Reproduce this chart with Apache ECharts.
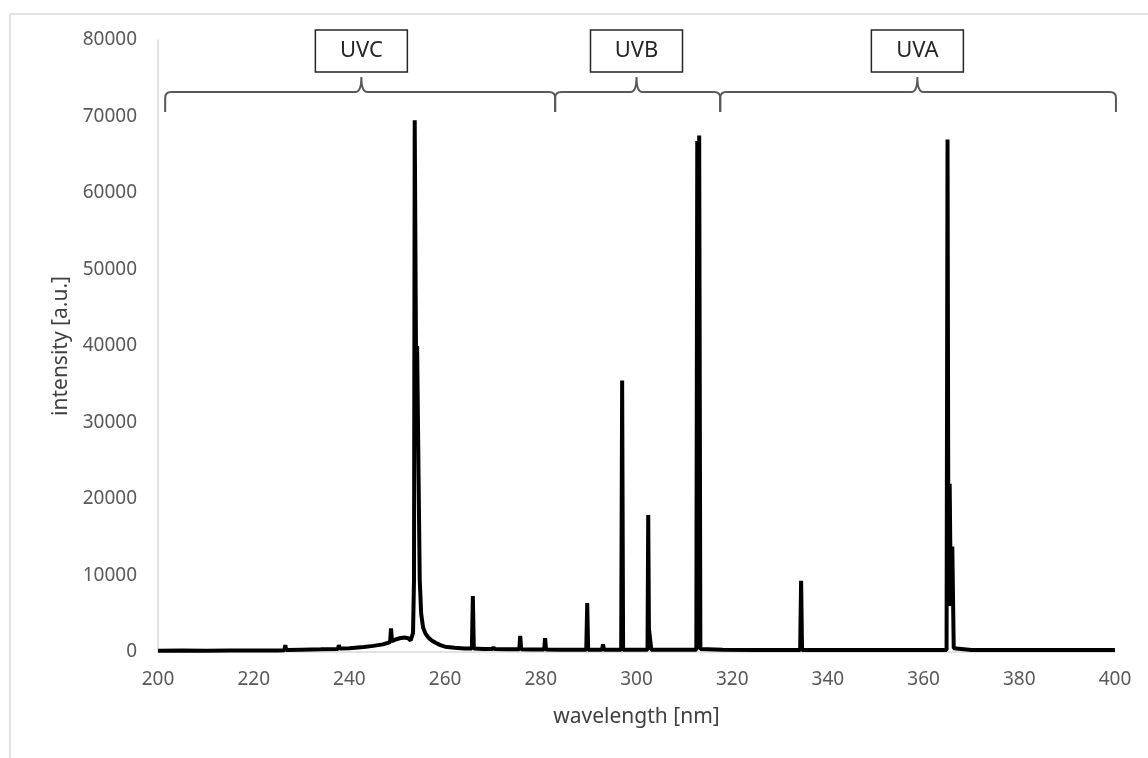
<!DOCTYPE html>
<html>
<head>
<meta charset="utf-8">
<title>UV spectrum</title>
<script src="https://cdn.jsdelivr.net/npm/echarts@6/dist/echarts.min.js"></script>
<style>
  html, body { margin: 0; padding: 0; background: #fff; }
  #chart { width: 1148px; height: 758px; }
</style>
</head>
<body>
<div id="chart"></div>
<script>
// spectrum: wavelength [nm] and intensity [a.u.]
const wavelength = [
  200, 205, 210, 215, 220, 225,
  226.4, 226.6, 226.8, 230, 234,
  237.6, 237.8, 238.0, 240, 243, 245, 247, 248,
  248.5, 248.7, 248.9, 249.5, 250.5, 251.5, 252.3, 252.8,
  253.3, 253.5, 253.65, 253.85, 254.0, 254.15, 254.35, 254.7,
  255.0, 255.4, 255.9, 256.5, 257.2, 258, 259, 260, 262, 264,
  265.6, 265.8, 266.0, 268, 269.9, 270.1, 270.3,
  273, 275.5, 275.7, 275.9, 278, 280.7, 280.9, 281.1,
  284, 287, 289.5, 289.7, 289.9, 292.8, 293.0, 293.2,
  296.8, 297.0, 297.2, 300, 302.3, 302.45, 302.6, 302.9, 303.1,
  306, 310, 312.5, 312.7, 312.9, 313.1, 313.35,
  318, 325, 330, 334.2, 334.4, 334.6, 340, 350, 360,
  364.8, 365.0, 365.2, 365.45, 365.7, 366.0, 366.3, 370, 380, 390, 400
];
const intensity = [
  150, 180, 160, 200, 180, 200,
  220, 900, 250, 300, 350,
  400, 900, 450, 500, 650, 800, 1000, 1200,
  1300, 3100, 1400, 1600, 1800, 1900, 1800, 1500,
  2500, 9400, 69500, 69300, 30000, 40000, 39800, 9400,
  5000, 3200, 2400, 1900, 1500, 1200, 900, 700, 550, 450,
  450, 7300, 450, 400, 380, 650, 380,
  350, 350, 2100, 350, 330, 330, 1800, 330,
  300, 300, 300, 6400, 300, 300, 1000, 300,
  300, 35500, 300, 300, 300, 17900, 3000, 2800, 300,
  280, 280, 300, 66800, 20000, 67500, 400,
  280, 270, 270, 270, 9300, 270, 260, 260, 260,
  270, 67000, 6000, 22000, 6000, 13800, 500, 260, 250, 250, 250
];

// UV bands: bracket start, end and tip in nm
const bandNames = ["UVC", "UVB", "UVA"];
const bandStart = [201.5, 283, 317.5];
const bandEnd = [283, 317.5, 400.2];
const bandTip = [242.5, 300, 358.7];
const bracketLevel = 73200;

const xTicks = { min: 200, max: 400, interval: 20 };
const yTicks = { min: 0, max: 80000, interval: 10000 };

const spectrum = wavelength.map((w, i) => [w, intensity[i]]);
const bands = bandNames.map((n, i) => [bandStart[i], bandEnd[i], bandTip[i], bracketLevel]);

const font = "Noto Sans";
const chart = echarts.init(document.getElementById("chart"));

function renderBracket(params, api) {
  const y0 = api.value(3);
  const a = api.coord([api.value(0), y0]);
  const b = api.coord([api.value(1), y0]);
  const m = api.coord([api.value(2), y0]);
  const y = a[1];
  const r = 6;
  const path =
    "M" + a[0] + " " + (y + 20) +
    " L" + a[0] + " " + (y + r) +
    " Q" + a[0] + " " + y + " " + (a[0] + r) + " " + y +
    " L" + (m[0] - r) + " " + y +
    " Q" + m[0] + " " + y + " " + m[0] + " " + (y - 15) +
    " Q" + m[0] + " " + y + " " + (m[0] + r) + " " + y +
    " L" + (b[0] - r) + " " + y +
    " Q" + b[0] + " " + y + " " + b[0] + " " + (y + r) +
    " L" + b[0] + " " + (y + 20);
  return {
    type: "group",
    children: [
      {
        type: "path",
        shape: { pathData: path },
        style: { stroke: "#595959", lineWidth: 2, fill: null }
      },
      {
        type: "rect",
        shape: { x: m[0] - 46, y: y - 62, width: 92, height: 42 },
        style: { stroke: "#262626", lineWidth: 1.5, fill: "#fff" }
      },
      {
        type: "text",
        style: {
          text: bandNames[params.dataIndex],
          x: m[0], y: y - 41,
          align: "center", verticalAlign: "middle",
          font: "22px '" + font + "'",
          fill: "#262626"
        }
      }
    ]
  };
}

const option = {
  animation: false,
  backgroundColor: "#fff",
  textStyle: { fontFamily: font },
  graphic: [{
    type: "rect",
    shape: { x: 10, y: 14, width: 1160, height: 770 },
    style: { stroke: "#d9d9d9", lineWidth: 1.5, fill: null },
    silent: true
  }],
  grid: { left: 158, right: 33, top: 40, bottom: 106, outerBoundsMode: "none" },
  xAxis: {
    type: "value",
    min: xTicks.min, max: xTicks.max, interval: xTicks.interval,
    name: "wavelength [nm]",
    nameLocation: "middle",
    nameGap: 55,
    nameTextStyle: { color: "#404040", fontSize: 21, fontFamily: font },
    axisLine: { show: true, lineStyle: { color: "#d9d9d9", width: 1.5 } },
    axisTick: { show: false },
    splitLine: { show: false },
    axisLabel: { color: "#595959", fontSize: 19, margin: 18, fontFamily: font }
  },
  yAxis: {
    type: "value",
    min: yTicks.min, max: yTicks.max, interval: yTicks.interval,
    name: "intensity [a.u.]",
    nameLocation: "middle",
    nameGap: 86,
    nameTextStyle: { color: "#404040", fontSize: 21, fontFamily: font },
    axisLine: { show: true, lineStyle: { color: "#d9d9d9", width: 1.5 } },
    axisTick: { show: false },
    splitLine: { show: false },
    axisLabel: {
      color: "#595959", fontSize: 19, margin: 21, fontFamily: font,
      formatter: function (v) { return String(v); }
    }
  },
  series: [
    {
      type: "line",
      data: spectrum,
      showSymbol: false,
      symbol: "none",
      sampling: null,
      lineStyle: { color: "#000", width: 4, join: "bevel" },
      z: 3
    },
    {
      type: "custom",
      coordinateSystem: "cartesian2d",
      clip: false,
      data: bands,
      encode: { x: [0, 1, 2], y: 3 },
      renderItem: renderBracket,
      z: 4
    }
  ]
};

chart.setOption(option);
window.addEventListener("resize", function () {
  chart.resize();
});
</script>
</body>
</html>
